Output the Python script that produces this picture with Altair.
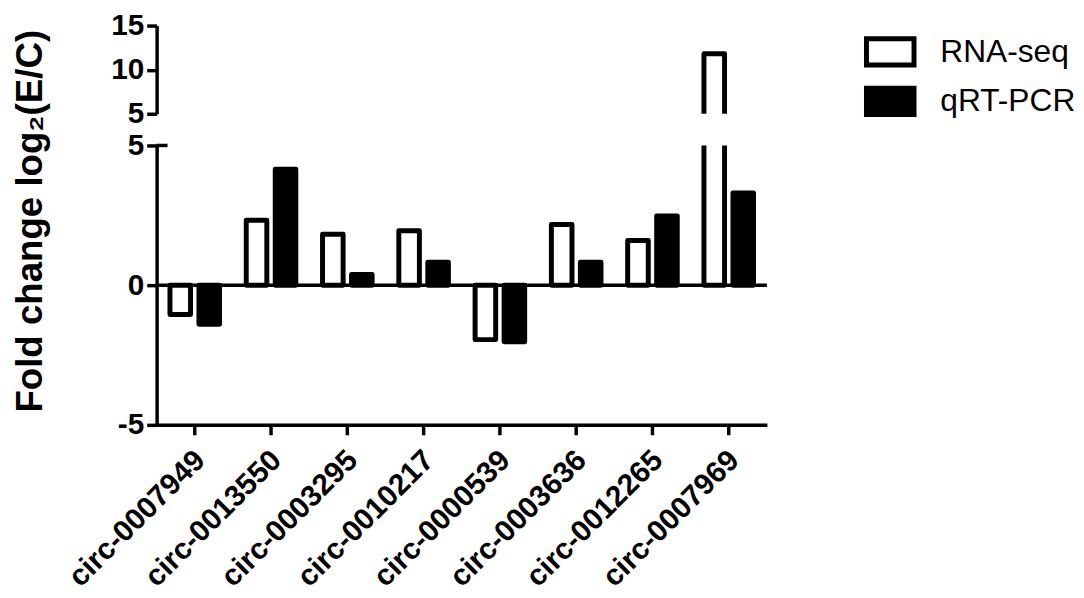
import altair as alt
import pandas as pd

categories = ["circ-0007949", "circ-0013550", "circ-0003295", "circ-0010217",
              "circ-0000539", "circ-0003636", "circ-0012265", "circ-0007969"]
series_names = ["RNA-seq", "qRT-PCR"]
rna_seq = [-1.05, 2.32, 1.82, 1.95, -1.95, 2.17, 1.60, 11.8]
qrt_pcr = [-1.40, 4.15, 0.38, 0.82, -2.03, 0.82, 2.48, 3.30]
top_ticks = [5, 10, 15]
bottom_ticks = [-5, 0, 5]

rows = []
for c, r, q in zip(categories, rna_seq, qrt_pcr):
    rows.append({"gene": c, "method": series_names[0], "fc": r})
    rows.append({"gene": c, "method": series_names[1], "fc": q})
df = pd.DataFrame(rows)

FONT = "Liberation Sans"
x_scale = alt.Scale(paddingInner=0.35, paddingOuter=0.175)
xoff = alt.XOffset("method:N", sort=series_names,
                   scale=alt.Scale(paddingInner=0.29, paddingOuter=0))
fill = alt.Fill(
    "method:N", sort=series_names,
    scale=alt.Scale(domain=series_names, range=["white", "black"]),
    legend=alt.Legend(
        title=None, orient="right", offset=96, labelFont=FONT,
        labelFontSize=32, labelFontWeight="normal", labelColor="black",
        symbolType="M-1,-0.55H1V0.55H-1Z", symbolSize=2304,
        symbolStrokeColor="black", symbolStrokeWidth=5, symbolOpacity=1,
        labelOffset=24, padding=0, rowPadding=0, labelLimit=0,
    ),
)
bar_kw = dict(stroke="black", strokeWidth=5, strokeJoin="round", clip=True)
num_label = "'' + datum.value"

top = alt.Chart(df).mark_bar(**bar_kw).encode(
    x=alt.X("gene:N", sort=categories, scale=x_scale, axis=None),
    xOffset=xoff,
    y=alt.Y("fc:Q", scale=alt.Scale(domain=[5, 15], nice=False, zero=False),
            axis=alt.Axis(values=top_ticks, title=None, labelExpr=num_label)),
    y2=alt.datum(0),
    fill=fill,
).properties(width=616, height=89)

bars_bottom = alt.Chart(df).mark_bar(**bar_kw).encode(
    x=alt.X("gene:N", sort=categories, scale=x_scale,
            axis=alt.Axis(title=None, labelAngle=-45, labelFontSize=30,
                          labelPadding=10, labelOffset=-5, labelFont=FONT,
                          labelLimit=0, labelFontWeight="bold",
                          labelColor="black")),
    xOffset=xoff,
    y=alt.Y("fc:Q", scale=alt.Scale(domain=[-5, 5], nice=False),
            axis=alt.Axis(values=bottom_ticks, title="Fold change log₂(E/C)",
                          labelExpr=num_label,
                          titleFont=FONT, titleFontSize=37,
                          titleFontWeight="bold", titleColor="black",
                          titleX=-116, titleY=76, titleAngle=270,
                          titleAlign="center", titleBaseline="alphabetic")),
    y2=alt.datum(0),
    fill=fill,
)
zero_line = alt.Chart(pd.DataFrame({"v": [0]})).mark_rule(
    color="black", strokeWidth=3.5).encode(y=alt.Y("v:Q"))
break_cap = alt.Chart(pd.DataFrame({"v": [5]})).mark_rule(
    color="black", strokeWidth=3.5).encode(
    y=alt.Y("v:Q"), x=alt.value(0), x2=alt.value(11))

bottom = alt.layer(zero_line, bars_bottom, break_cap).properties(width=616, height=282)

chart = alt.vconcat(top, bottom, spacing=32, bounds="flush").resolve_scale(
    y="independent"
).properties(
    padding={"left": 4, "top": 0, "right": 0, "bottom": 0}
).configure_view(stroke=None).configure_axis(
    grid=False, domainColor="black", domainWidth=3.5, tickColor="black",
    tickWidth=3.5, tickSize=10, labelFont=FONT, labelFontSize=30,
    labelFontWeight="bold", labelColor="black", labelPadding=3,
)

chart.save("out.html", embed_options={"renderer": "svg", "actions": False})
